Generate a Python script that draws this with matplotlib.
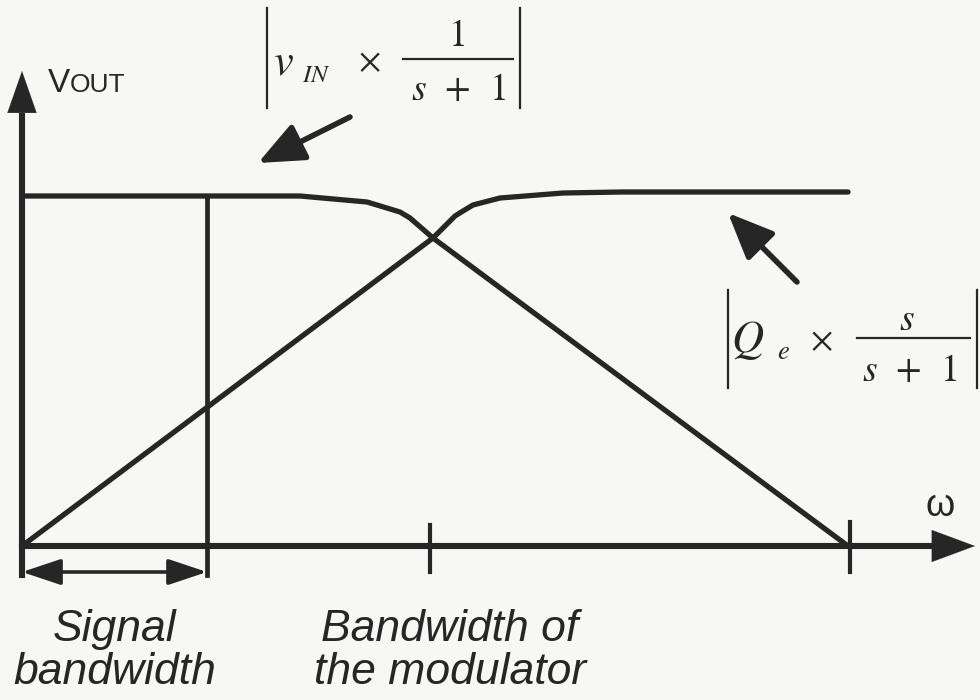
import numpy as np
import matplotlib
matplotlib.use("Agg")
import matplotlib.pyplot as plt

plt.rcParams['mathtext.fontset'] = 'stix'
plt.rcParams['font.family'] = ['Liberation Sans', 'DejaVu Sans']

# frequency response sketch (omega on x, |vout| on y), arbitrary units
level = 3.5
sig_bw = 1.85
mod_bw = 4.08
f_end = 8.28

# |vIN x 1/(s+1)| : flat then rolling off
lp_w = [0.0, 2.78, 3.45, 3.78, 3.88, 4.11, 8.26]
lp_v = [3.50, 3.50, 3.44, 3.34, 3.28, 3.08, 0.0]

# |Qe x s/(s+1)| : rising then flat
hp_w = [0.0, 4.11, 4.33, 4.41, 4.51, 4.78, 5.41, 6.0, 8.26]
hp_v = [0.0, 3.08, 3.30, 3.35, 3.41, 3.48, 3.53, 3.54, 3.54]

ink = '#262626'

fig = plt.figure(figsize=(9.8, 7.0), dpi=100)
fig.patch.set_facecolor('#f7f7f6')
ax = fig.add_axes([0, 0, 1, 1])
ax.set_facecolor('#f7f7f6')
ax.set_xlim(-0.22, 9.58)
ax.set_ylim(-1.54, 5.46)
ax.axis('off')

# the two curves
ax.plot(lp_w, lp_v, color=ink, lw=3.8, solid_joinstyle='round', solid_capstyle='round')
ax.plot(hp_w, hp_v, color=ink, lw=3.8, solid_joinstyle='round', solid_capstyle='round')

# signal bandwidth edge
ax.plot([sig_bw, sig_bw], [level, -0.29], color=ink, lw=3.4)

# axes with arrow heads
ax.plot([0, 0], [-0.29, 4.3], color=ink, lw=4.4)
ax.annotate('', xy=(0, 4.75), xytext=(0, 4.2),
            arrowprops=dict(arrowstyle='-|>,head_length=3.0,head_width=1.05',
                            mutation_scale=10, color=ink, lw=0.1,
                            shrinkA=0, shrinkB=0))
ax.plot([0, 9.15], [0, 0], color=ink, lw=4.4)
ax.annotate('', xy=(9.53, 0), xytext=(9.0, 0),
            arrowprops=dict(arrowstyle='-|>,head_length=3.1,head_width=1.15',
                            mutation_scale=10, color=ink, lw=0.1,
                            shrinkA=0, shrinkB=0))

# ticks on the omega axis
ax.plot([mod_bw, mod_bw], [0.21, -0.26], color=ink, lw=3.0)
ax.plot([f_end, f_end], [0.24, -0.26], color=ink, lw=3.0)

# signal bandwidth span
ax.annotate('', xy=(0.0, -0.26), xytext=(sig_bw, -0.26),
            arrowprops=dict(arrowstyle='<|-|>,head_length=2.4,head_width=0.8',
                            mutation_scale=10, color=ink, lw=2.6,
                            shrinkA=0, shrinkB=0))

# pointers to the curves
ax.annotate('', xy=(2.36, 3.83), xytext=(3.28, 4.29),
            arrowprops=dict(arrowstyle='-|>,head_length=2.8,head_width=1.2',
                            mutation_scale=10, color=ink, lw=4.0,
                            shrinkA=0, shrinkB=0, capstyle='round'))
ax.annotate('', xy=(7.06, 3.33), xytext=(7.75, 2.64),
            arrowprops=dict(arrowstyle='-|>,head_length=2.8,head_width=1.2',
                            mutation_scale=10, color=ink, lw=4.0,
                            shrinkA=0, shrinkB=0, capstyle='round'))

# axis labels
ax.text(0.26, 4.54, 'V', fontsize=24, color=ink, ha='left', va='baseline')
ax.text(0.48, 4.54, 'OUT', fontsize=19, color=ink, ha='left', va='baseline')
ax.text(9.18, 0.40, 'ω', fontsize=27, color=ink, ha='center', va='center')


def abs_expr(x0, x1, y_top, y_bot, y_bar, bar_x0, bar_x1):
    # |...| bars and the fraction line of a transfer expression
    ax.plot([x0, x0], [y_top, y_bot], color=ink, lw=1.6)
    ax.plot([x1, x1], [y_top, y_bot], color=ink, lw=1.6)
    ax.plot([bar_x0, bar_x1], [y_bar, y_bar], color=ink, lw=1.6)


# |vIN x 1/(s+1)|
abs_expr(2.45, 4.98, 5.38, 4.38, 4.87, 3.81, 4.91)
ax.text(2.61, 4.83, r'$v$', fontsize=32, color=ink, ha='center', va='center')
ax.text(2.94, 4.71, r'$IN$', fontsize=18, color=ink, ha='center', va='center')
ax.text(3.47, 4.84, r'$\times$', fontsize=25, color=ink, ha='center', va='center')
ax.text(4.34, 5.10, r'$1$', fontsize=27, color=ink, ha='center', va='center')
ax.text(4.36, 4.56, r'$s\enspace+\enspace1$', fontsize=27, color=ink,
        ha='center', va='center')

# |Qe x s/(s+1)|
abs_expr(7.06, 9.55, 2.56, 1.58, 2.08, 8.35, 9.48)
ax.text(7.26, 2.06, r'$Q$', fontsize=32, color=ink, ha='center', va='center')
ax.text(7.61, 1.94, r'$e$', fontsize=19, color=ink, ha='center', va='center')
ax.text(7.99, 2.05, r'$\times$', fontsize=25, color=ink, ha='center', va='center')
ax.text(8.85, 2.26, r'$s$', fontsize=27, color=ink, ha='center', va='center')
ax.text(8.87, 1.75, r'$s\enspace+\enspace1$', fontsize=27, color=ink,
        ha='center', va='center')

# band annotations under the omega axis
ax.text(0.93, -1.05, 'Signal\nbandwidth', fontsize=32, style='italic',
        color=ink, ha='center', va='center', linespacing=1.05)
ax.text(4.28, -1.05, 'Bandwidth of\nthe modulator', fontsize=32, style='italic',
        color=ink, ha='center', va='center', linespacing=1.05)

fig.savefig('out.png', dpi=100, facecolor=fig.get_facecolor())
